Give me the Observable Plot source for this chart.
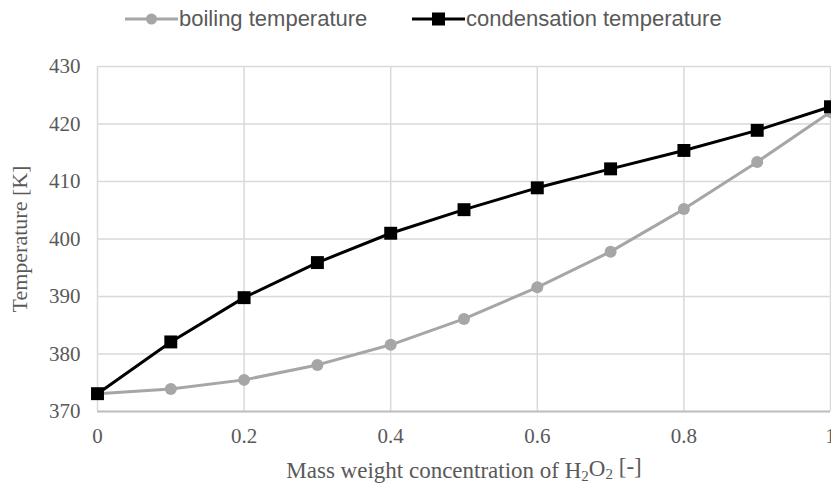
<!DOCTYPE html>
<html><head><meta charset="utf-8">
<script src="https://cdn.jsdelivr.net/npm/d3@7"></script>
<script src="https://cdn.jsdelivr.net/npm/@observablehq/plot@0.6"></script>
<style>
body{margin:0;background:#fff;width:831px;height:487px;overflow:hidden}
#legend{position:relative;height:40px;font-family:"Liberation Sans",Arial,sans-serif;font-size:22px;color:#595959}
.item{position:absolute;top:0;height:38px;display:flex;align-items:center;white-space:nowrap}
.item svg{display:block;margin-right:1px}
</style></head><body>
<div id="legend"></div><div id="chart"></div>
<script>
const concentration = [0, 0.1, 0.2, 0.3, 0.4, 0.5, 0.6, 0.7, 0.8, 0.9, 1];
const boilingTemp = [373.1, 373.9, 375.5, 378.1, 381.6, 386.1, 391.6, 397.8, 405.2, 413.4, 422.1];
const condensationTemp = [373.1, 382.1, 389.8, 395.9, 401.0, 405.1, 408.9, 412.2, 415.4, 418.9, 423.0];
const seriesNames = ["boiling temperature", "condensation temperature"];
const seriesColors = ["#a6a6a6", "#000000"];
const seriesSymbols = ["circle", "square"];
const xTicks = [0, 0.2, 0.4, 0.6, 0.8, 1];
const xTickLabels = ["0", "0.2", "0.4", "0.6", "0.8", "1"];
const yTicks = [370, 380, 390, 400, 410, 420, 430];
const xLabel = "Mass weight concentration of H2O2 [-]";
const yLabel = "Temperature [K]";

// legend
const legendLeft = [125, 412];
const legend = document.getElementById("legend");
seriesNames.forEach((name, i) => {
  const item = document.createElement("div");
  item.className = "item";
  item.style.left = legendLeft[i] + "px";
  const w = 53;
  let marker = seriesSymbols[i] === "circle"
    ? `<circle cx="${w/2}" cy="10" r="5.5" fill="${seriesColors[i]}"/>`
    : `<rect x="${w/2-6.5}" y="3.5" width="13" height="13" fill="${seriesColors[i]}"/>`;
  item.innerHTML = `<svg width="${w}" height="20"><line x1="0" x2="${w}" y1="10" y2="10" stroke="${seriesColors[i]}" stroke-width="3"/>${marker}</svg><span>${name}</span>`;
  legend.appendChild(item);
});

const boil = concentration.map((c, i) => ({x: c, y: boilingTemp[i]}));
const cond = concentration.map((c, i) => ({x: c, y: condensationTemp[i]}));

const chart = Plot.plot({
  width: 831, height: 447,
  marginTop: 26, marginBottom: 76, marginLeft: 97, marginRight: 1,
  style: {fontFamily: "'Liberation Serif', 'Times New Roman', serif", fontSize: "21px", color: "#595959", background: "#fff", overflow: "visible"},
  x: {domain: [0, 1]},
  y: {domain: [370, 430]},
  marks: [
    Plot.gridX(xTicks, {stroke: "#d9d9d9", strokeOpacity: 1, strokeWidth: 1.5}),
    Plot.gridY(yTicks, {stroke: "#d9d9d9", strokeOpacity: 1, strokeWidth: 1.5}),
    Plot.ruleY([370], {stroke: "#bfbfbf", strokeWidth: 2}),
    Plot.axisX({ticks: xTicks, tickFormat: d => xTickLabels[xTicks.indexOf(d)], tickSize: 0, tickPadding: 17,
      label: xLabel, labelArrow: "none", labelAnchor: "center", labelOffset: 66, fontSize: 21}),
    Plot.axisY({ticks: yTicks, tickSize: 0, tickPadding: 17,
      label: yLabel, labelArrow: "none", labelAnchor: "center", labelOffset: 86, fontSize: 21}),
    Plot.line(boil, {x: "x", y: "y", stroke: seriesColors[0], strokeWidth: 3}),
    Plot.dot(boil, {x: "x", y: "y", fill: seriesColors[0], r: 6, symbol: "circle"}),
    Plot.line(cond, {x: "x", y: "y", stroke: seriesColors[1], strokeWidth: 3}),
    Plot.dot(cond, {x: "x", y: "y", fill: seriesColors[1], r: 7.3, symbol: "square"})
  ]
});
document.getElementById("chart").appendChild(chart);

// subscripts in x label, label font size
d3.select(chart).selectAll("text").each(function() {
  const t = this.textContent.replace(/\s*[→↑]\s*$/, "");
  if (t === xLabel) {
    const sel = d3.select(this).text(null).style("font-size", "23px");
    sel.append("tspan").text("Mass weight concentration of H");
    sel.append("tspan").text("2").attr("dy", "0.25em").style("font-size", "15px");
    sel.append("tspan").text("O").attr("dy", "-0.25em");
    sel.append("tspan").text("2").attr("dy", "0.25em").style("font-size", "15px");
    sel.append("tspan").text(" [-]").attr("dy", "-0.25em");
  } else if (t === yLabel) {
    d3.select(this).text(yLabel).style("font-size", "22px");
  }
});
</script>
</body></html>
